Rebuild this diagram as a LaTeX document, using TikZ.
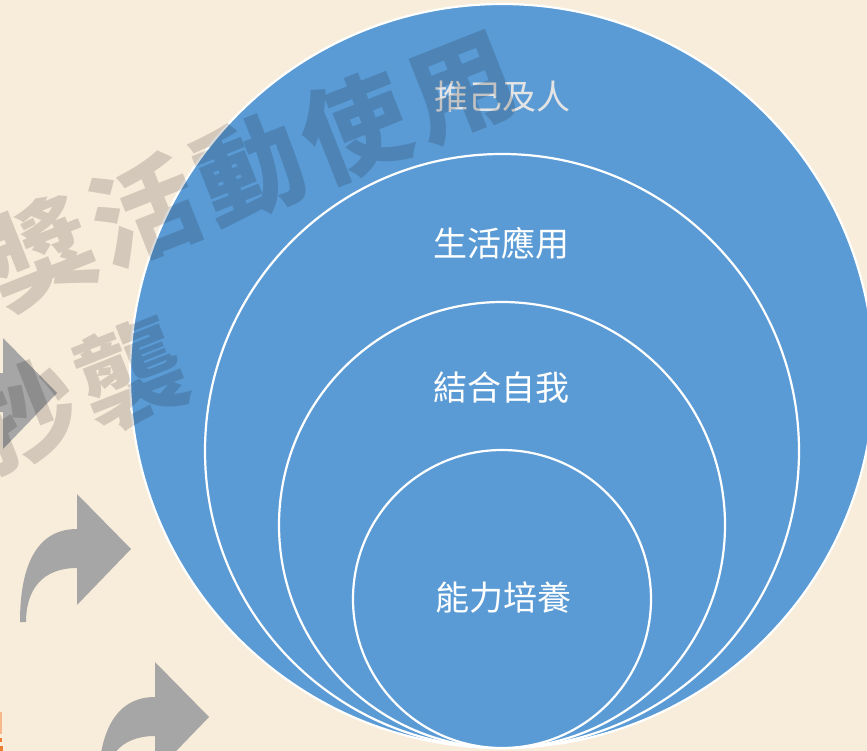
\documentclass[tikz,border=0pt]{standalone}
\usepackage{fontspec}
\newfontfamily\cjk{Noto Sans CJK TC}
\newfontfamily\cjkwm{Noto Sans CJK TC}[LetterSpace=7]
\definecolor{bgcol}{RGB}{248,236,218}
\definecolor{circblue}{RGB}{91,155,213}
\definecolor{arrowgray}{RGB}{166,166,166}
\definecolor{lighttext}{RGB}{228,228,228}
\definecolor{orangeA}{RGB}{246,184,140}
\definecolor{orangeB}{RGB}{237,125,49}
\tikzset{
  ring/.style={fill=circblue, draw=white, line width=2.2pt},
  ringlabel/.style={text=white, font=\cjk\fontsize{34}{40}\selectfont, inner sep=0pt},
  watermark/.style={text=black, text opacity=0.15, font=\cjkwm\bfseries\fontsize{106}{120}\selectfont, inner sep=0pt, rotate=21.6},
  curvedarrow/.style={fill=arrowgray},
}
\newcommand\arrowshape{(77,529) -- (77,494) -- (131,549) -- (77,605) -- (77,568) .. controls (42,568) and (26,590) .. (26,622) -- (20,622) .. controls (20,560) and (40,529) .. (77,529) -- cycle}
\begin{document}
\begin{tikzpicture}[x=1pt,y=-1pt]
\useasboundingbox (0,0) rectangle (867,751);
\clip (0,0) rectangle (867,751);
\fill[bgcol] (0,0) rectangle (867,751);
% curved arrows in the background
\fill[curvedarrow, shift={(-74,-156)}] \arrowshape;
\fill[curvedarrow] \arrowshape;
\fill[curvedarrow, shift={(78,168)}] \arrowshape;
% nested circles, all touching at the bottom
\path[ring] (502,376) circle[radius=372];
\path[ring] (502,451) circle[radius=297];
\path[ring] (502,525) circle[radius=223];
\path[ring] (502,599) circle[radius=149];
% labels
\node[ringlabel, text=lighttext] (l1) at (502,97) {推己及人};
\node[ringlabel] (l2) at (501,243) {生活應用};
\node[ringlabel] (l3) at (501,388) {結合自我};
\node[ringlabel] (l4) at (503,598) {能力培養};
% watermark
\node[watermark] (w1) at (250,169) {獎活動使用};
\node[watermark] (w2) at (78,395) {抄襲};
% orange fragment at the left edge
\fill[orangeA] (0,712) rectangle (1.5,734);
\fill[orangeB] (0,738) rectangle (1.5,742);
\fill[orangeB] (0,746) rectangle (3,751);
\end{tikzpicture}
\end{document}
